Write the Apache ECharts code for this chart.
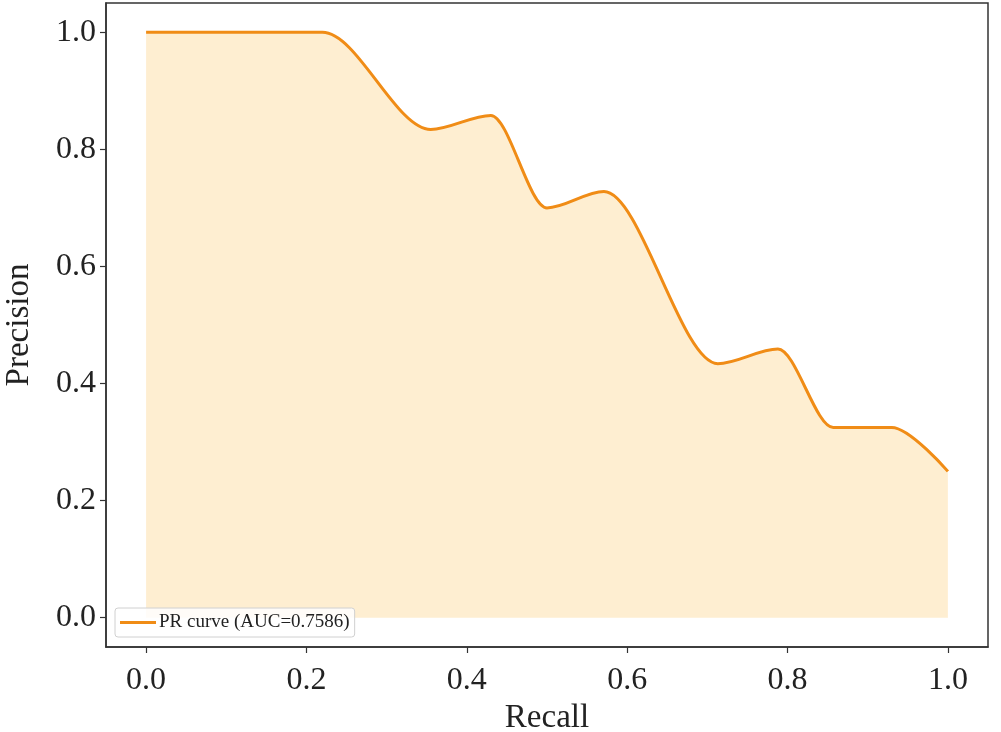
<!DOCTYPE html>
<html><head><meta charset="utf-8">
<script src="https://cdn.jsdelivr.net/npm/echarts@6/dist/echarts.min.js"></script>
<style>html,body{margin:0;padding:0;background:#fff}#c{width:1001px;height:732px}</style>
</head><body><div id="c"></div>
<script>
const recall = [0, 0.22, 0.355, 0.43, 0.5, 0.571, 0.713, 0.788, 0.857, 0.93, 1.0];
const precision = [1.0, 1.0, 0.834, 0.858, 0.700, 0.728, 0.434, 0.459, 0.325, 0.325, 0.25];
const tickValues = [0, 0.2, 0.4, 0.6, 0.8, 1.0];
const seriesName = 'PR curve (AUC=0.7586)';

const font = '"Liberation Serif", "DejaVu Serif", serif';
const chart = echarts.init(document.getElementById('c'), null, {renderer: 'canvas'});
const axisCommon = {
  type: 'value', min: -0.05, max: 1.05,
  axisLine: {show: true, onZero: false, lineStyle: {color: '#333', width: 1.5}},
  axisTick: {show: true, inside: false, length: 6, customValues: tickValues, lineStyle: {color: '#333', width: 1.2}},
  axisLabel: {customValues: tickValues, fontFamily: font, fontSize: 32, color: '#222', formatter: v => v.toFixed(1)},
  splitLine: {show: false},
  nameLocation: 'middle',
  nameTextStyle: {fontFamily: font, fontSize: 33, color: '#222'}
};
chart.setOption({
  animation: false,
  grid: {left: 106, right: 13, top: 3, bottom: 85, show: true, borderColor: '#333', borderWidth: 1.5,
    backgroundColor: 'transparent', containLabel: false, outerBoundsMode: 'none'},
  xAxis: Object.assign({}, axisCommon, {name: 'Recall', nameGap: 52,
    axisLabel: Object.assign({}, axisCommon.axisLabel, {margin: 18})}),
  yAxis: Object.assign({}, axisCommon, {name: 'Precision', nameGap: 70,
    axisLabel: Object.assign({}, axisCommon.axisLabel, {margin: 10})}),
  legend: {
    left: 115, top: 608, orient: 'vertical',
    backgroundColor: 'rgba(255,255,255,0.85)', borderColor: '#d0d0d0', borderWidth: 1, borderRadius: 3,
    padding: [5, 5, 5, 5], itemWidth: 36, itemHeight: 3, itemGap: 4, icon: 'rect',
    textStyle: {fontFamily: font, fontSize: 19, color: '#222', padding: [0, 0, 0, -2]},
    data: [seriesName]
  },
  series: [{
    name: seriesName, type: 'line',
    data: recall.map((r, i) => [r, precision[i]]),
    smooth: 0.32, smoothMonotone: 'x',
    showSymbol: false, symbol: 'none',
    lineStyle: {color: '#F08C16', width: 3},
    itemStyle: {color: '#F08C16'},
    areaStyle: {color: 'rgba(252,196,100,0.42)', origin: 0}
  }]
});
</script></body></html>
